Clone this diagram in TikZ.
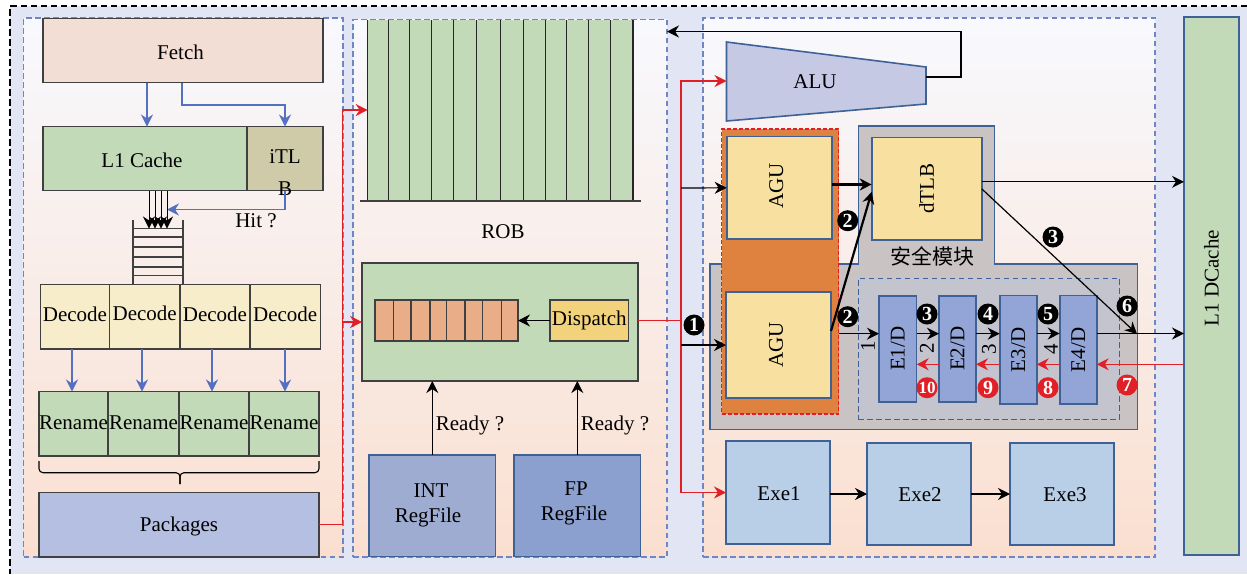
\documentclass[tikz,border=0pt]{standalone}
\usepackage{fontspec}
\setmainfont{Liberation Serif}
\newfontfamily\cjk{Noto Sans CJK SC}
\usepackage{xcolor}
\usepackage{tikz}
\usetikzlibrary{arrows.meta,positioning}
\definecolor{pagebg}{HTML}{E2E5F4}
\definecolor{paneltop}{HTML}{F8F9FE}
\definecolor{panelbot}{HTML}{FADFD0}
\definecolor{paneledge}{HTML}{6E86C4}
\definecolor{steel}{HTML}{3F6296}
\definecolor{linkblue}{HTML}{5470C0}
\definecolor{linkred}{HTML}{E01F26}
\definecolor{fetchc}{HTML}{F3DED5}
\definecolor{leaf}{HTML}{C3DAB8}
\definecolor{khaki}{HTML}{CFCAA8}
\definecolor{cream}{HTML}{F8EDCB}
\definecolor{pack}{HTML}{B4BFE2}
\definecolor{peach}{HTML}{E9AE88}
\definecolor{gold}{HTML}{F2D27B}
\definecolor{sand}{HTML}{F7E0A0}
\definecolor{intc}{HTML}{9EACD2}
\definecolor{fpc}{HTML}{8BA0CF}
\definecolor{aluc}{HTML}{C6C9E4}
\definecolor{zone}{HTML}{E0823F}
\definecolor{secure}{HTML}{C9C3C4}
\definecolor{innerc}{HTML}{C3C4CE}
\definecolor{execc}{HTML}{93A5D6}
\definecolor{exec}{HTML}{B9CEE7}
\newcommand{\nudge}[3]{\raisebox{#2}[\height][\depth]{\kern#1\relax #3\kern-#1\relax}}

\begin{document}
\begin{tikzpicture}[
  x=1pt, y=-1pt,
  txt/.style={inner sep=0pt, font=\fontsize{21}{32}\selectfont},
  box/.style={draw=black!75, line width=1.2pt, inner sep=0pt, outer sep=0pt, font=\fontsize{21}{32}\selectfont, align=center},
  unit/.style={box, draw=steel, line width=1.6pt},
  panel/.style={draw=paneledge, dash pattern=on 5.5pt off 3.5pt, line width=1.1pt, top color=paneltop, bottom color=panelbot, inner sep=0pt, outer sep=0pt},
  badge/.style={circle, fill=black, text=white, inner sep=0pt, minimum size=21pt, font=\fontsize{20}{20}\selectfont\bfseries},
  redbadge/.style={badge, fill=linkred},
  arr/.style={-{Stealth[length=12pt,width=12pt]}, line width=1.2pt},
  barr/.style={arr, draw=linkblue, line width=1.3pt},
  rout/.style={arr, draw=linkred, line width=1.3pt},
  node distance=0pt,
]
  \useasboundingbox (0,0) rectangle (1247,574);
  \fill[pagebg] (10,6) rectangle (1247,574);
  \draw[black, dash pattern=on 6.5pt off 3.5pt, line width=1.1pt] (1247,6) -- (10,6) -- (10,574);

  % three panels
  \node[panel, minimum width=319.5pt, minimum height=539pt] (front) at (183.25,287.5) {};
  \node[panel, minimum width=314pt, minimum height=537.5pt] (mid) at (510,288.25) {};
  \node[panel, minimum width=452pt, minimum height=539pt] (back) at (929,287.5) {};

  % front end
  \node[box, fill=fetchc, minimum width=280pt, minimum height=64pt] (fetch) at (183,50.5) {\nudge{-2.5pt}{-2pt}{Fetch}};
  \node[box, fill=leaf, minimum width=204pt, minimum height=64pt] (l1) at (145,158.5) {\nudge{-3pt}{-2pt}{L1 Cache}};
  \node[box, fill=khaki, minimum width=76pt, minimum height=64pt, right=of l1] (itlb) {};
  \node[txt, align=center] (itlbtext) at (285,173) {iTL\\B};
  \node[txt] (hit) at (256,221) {Hit ?};

  \foreach \y in {228.5,237,247,257,267,275.5}
    \draw[black!75, line width=1.2pt] (133,\y) -- (183,\y);
  \draw[black!75, line width=1.2pt] (133,220) -- (133,284.5);
  \draw[black!75, line width=1.2pt] (183,220) -- (183,284.5);

  \node[box, fill=cream, minimum width=69pt, minimum height=64.5pt] (dec1) at (75,316.75) {\nudge{0pt}{2pt}{Decode}};
  \node[box, fill=cream, minimum width=70.5pt, minimum height=64.5pt, right=of dec1] (dec2) {\nudge{0pt}{3pt}{Decode}};
  \node[box, fill=cream, minimum width=70pt, minimum height=64.5pt, right=of dec2] (dec3) {\nudge{0pt}{2pt}{Decode}};
  \node[box, fill=cream, minimum width=70.5pt, minimum height=64.5pt, right=of dec3] (dec4) {\nudge{0pt}{2pt}{Decode}};

  \node[box, fill=leaf, minimum width=69pt, minimum height=64.5pt] (ren1) at (73.5,423.75) {\nudge{0pt}{1pt}{Rename}};
  \node[box, fill=leaf, minimum width=71pt, minimum height=64.5pt, right=of ren1] (ren2) {\nudge{0pt}{1pt}{Rename}};
  \node[box, fill=leaf, minimum width=70pt, minimum height=64.5pt, right=of ren2] (ren3) {\nudge{0pt}{1pt}{Rename}};
  \node[box, fill=leaf, minimum width=70pt, minimum height=64.5pt, right=of ren3] (ren4) {\nudge{0pt}{1pt}{Rename}};

  \node[box, fill=pack, minimum width=280pt, minimum height=64.5pt] (packages) at (179,524.75) {\nudge{0pt}{-2pt}{Packages}};

  % brace under the rename row
  \coordinate (bracemid) at (180,472.7);
  \draw[black, line width=1.1pt, rounded corners=4pt] ([yshift=-5pt]ren1.south west) |- (bracemid) -- (180,484);
  \draw[black, line width=1.1pt, rounded corners=4pt] ([yshift=-5pt]ren4.south east) |- (bracemid) -- (180,484);

  \draw[barr] ([xshift=-36pt]fetch.south) -- ([xshift=-36pt]fetch.south |- l1.north);
  \draw[barr] ([xshift=-1pt]fetch.south) |- (200,105) -| (itlb.north);
  \draw[barr] (itlb.south) |- (167,209.5);
  \foreach \x in {149,155,161,167}
    \draw[arr, line width=1pt] (\x,190.5) -- (\x,228.5);

  \draw[barr] (72,349) -- (72,391.5);
  \draw[barr] (142,349) -- (142,391.5);
  \draw[barr] (212,349) -- (212,391.5);
  \draw[barr] (285,349) -- (285,391.5);

  % rob
  \fill[leaf] (367.7,19.5) rectangle (633,201);
  \foreach \x in {367.7,388.3,409.7,431.7,453.3,476.3,500.3,523.3,545.7,566.7,588.3,610.3,633}
    \draw[black!85, line width=1.2pt] (\x,19.5) -- (\x,201);
  \draw[black!75, line width=1.3pt] (360,201) -- (640.7,201);
  \coordinate (robin) at (367.7,110);
  \node[txt] (rob) at (503,232) {ROB};

  % issue queue
  \node[box, fill=leaf, minimum width=276pt, minimum height=118pt] (issue) at (500,322) {};
  \node[box, fill=peach, minimum width=143pt, minimum height=41pt] (queue) at (446.5,320.5) {};
  \foreach \x in {393.3,411,430,446.7,465,482.3,501.7}
    \draw[black!75, line width=1.1pt] (\x,300) -- (\x,341);
  \node[box, fill=gold, minimum width=78.7pt, minimum height=41pt] (dispatch) at (589.3,320.5) {Dispatch};
  \draw[arr] (dispatch) -- (queue);

  \node[unit, fill=intc, minimum width=126.7pt, minimum height=101.7pt] (intreg) at (432.3,505.8) {};
  \node[unit, fill=fpc, minimum width=126.7pt, minimum height=101.7pt] (fpreg) at (577.3,505.8) {};
  \node[txt, font=\fontsize{21}{25}\selectfont, align=center] (inttext) at (431,505.5) {INT\\\nudge{-3pt}{0pt}{RegFile}};
  \node[txt, font=\fontsize{21}{25}\selectfont, align=center] (fptext) at (576,503) {FP\\\nudge{-2pt}{0pt}{RegFile}};
  \draw[arr] (intreg.north) -- (intreg.north |- issue.south) node[pos=0.4, right=3pt, txt] (readya) {Ready ?};
  \draw[arr] (fpreg.north) -- (fpreg.north |- issue.south) node[pos=0.4, right=3pt, txt] (readyb) {Ready ?};

  % back end
  \draw[steel, fill=aluc, line width=1.6pt] (726.5,42) -- (926,67) -- (926,104) -- (726.5,121) -- cycle;
  \coordinate (aluin) at (726.5,81);
  \coordinate (aluout) at (926,77);
  \node[txt] (alu) at (815,81.5) {ALU};

  \draw[steel, fill=secure, line width=1.4pt] (710,264) -- (858.3,264) -- (858.3,126) -- (994.3,126)
    -- (994.3,264) -- (1137.7,264) -- (1137.7,429.3) -- (710,429.3) -- cycle;
  \node[draw=steel, dash pattern=on 5.5pt off 3.5pt, line width=1pt, fill=innerc, inner sep=0pt, outer sep=0pt, minimum width=261.5pt, minimum height=141pt] (crypto) at (988.75,348.5) {};
  \node[draw=linkred, dash pattern=on 4pt off 2pt, line width=1.2pt, fill=zone, inner sep=0pt, outer sep=0pt, minimum width=117pt, minimum height=285pt] (agubg) at (780.2,271.5) {};

  \node[unit, fill=sand, minimum width=105pt, minimum height=102.5pt] (agua) at (779.2,187.8) {\nudge{-3pt}{2pt}{\rotatebox{90}{AGU}}};
  \node[unit, fill=sand, minimum width=105pt, minimum height=106pt] (agub) at (778.5,345) {\nudge{-2.5pt}{0pt}{\rotatebox{90}{AGU}}};
  \node[unit, fill=sand, minimum width=110pt, minimum height=102.5pt] (dtlb) at (926.7,188.8) {\rotatebox{90}{dTLB}};
  \node[txt] (secname) at (932.5,256) {\cjk 安全模块};

  \node[unit, fill=execc, minimum width=37.7pt, minimum height=106pt] (e1) at (897.8,348.7) {\rotatebox{90}{E1/D}};
  \node[unit, fill=execc, minimum width=37pt, minimum height=106pt] (e2) at (957.5,348.7) {\rotatebox{90}{E2/D}};
  \node[unit, fill=execc, minimum width=37pt, minimum height=108.5pt] (e3) at (1018.2,349.9) {\rotatebox{90}{E3/D}};
  \node[unit, fill=execc, minimum width=37pt, minimum height=108.5pt] (e4) at (1078.2,349.9) {\rotatebox{90}{E4/D}};

  \node[unit, fill=exec, minimum width=104pt, minimum height=103pt] (exea) at (778,492.5) {\nudge{1pt}{-1pt}{Exe1}};
  \node[unit, fill=exec, minimum width=104pt, minimum height=102pt] (exeb) at (919,494) {\nudge{1pt}{-1pt}{Exe2}};
  \node[unit, fill=exec, minimum width=104pt, minimum height=102pt] (exec) at (1062,494) {\nudge{3pt}{-1pt}{Exe3}};
  \draw[arr] (exea.east |- exeb.west) -- (exeb.west);
  \draw[arr] (exeb) -- (exec);

  \node[unit, fill=leaf, minimum width=55pt, minimum height=538pt] (dcache) at (1211.5,286) {\nudge{0pt}{8pt}{\rotatebox{90}{L1 DCache}}};

  % connectors
  \coordinate (redbus) at (681,320.5);
  \draw[rout] (packages.east) -| (342.5,110) -- (robin);
  \draw[rout] (342.5,322) -- (issue.west);
  \draw[linkred, line width=1.3pt] (issue.east |- dispatch.east) -- (redbus);
  \draw[rout] (redbus) |- (aluin);
  \draw[rout] (redbus) |- (exea.west);
  \draw[arr] (681,188) -- (agua.west);
  \draw[arr] (681,345) -- (agub.west);

  \draw[arr] (aluout) -- (961,77) -- (961,31.5) -- (mid.east |- 0,31.5);

  \draw[arr, line width=2.2pt] ([yshift=3.3pt]agua.east) -- ([yshift=4.3pt]dtlb.west);
  \draw[arr, line width=2.2pt] ([yshift=14pt]agub.east) -- ([yshift=-3pt]dtlb.west);
  \draw[arr] ([yshift=15pt]e1.west -| agubg.east) -- ([yshift=15pt]e1.west);
  \draw[arr] ([yshift=15pt]e1.east) -- ([yshift=15pt]e2.west);
  \draw[arr] ([yshift=15pt]e2.east) -- ([yshift=15pt]e2.east -| e3.west);
  \draw[arr] ([yshift=16.4pt]e3.east) -- ([yshift=16.4pt]e4.west);
  \draw[arr] ([yshift=16.4pt]e4.east) -- ([yshift=16.4pt]e4.east -| dcache.west);
  \draw[arr] ([yshift=7pt]dtlb.east) -- ([yshift=7pt]dtlb.east -| dcache.west);
  \draw[arr] (dtlb.east) -- (1137,334);
  \draw[rout] (dcache.west |- e4.east) ++(0,14.4) -- ([yshift=-14.4pt]e4.east);
  \draw[rout] ([yshift=-14.4pt]e4.west) -- ([yshift=-14.4pt]e4.west -| e3.east);
  \draw[rout] ([yshift=-14.4pt]e3.west) -- ([yshift=-14.4pt]e3.west -| e2.east);
  \draw[rout] ([yshift=-15.6pt]e2.west) -- ([yshift=-15.6pt]e1.east);

  % step marks
  \node[badge] (m1) at (694,325) {1};
  \node[badge] (m2a) at (847.7,220.7) {2};
  \node[badge] (m2b) at (847.7,316.7) {2};
  \node[badge] (m3a) at (1053,237) {3};
  \node[badge] (m3b) at (927,314) {3};
  \node[badge] (m4) at (988,314) {4};
  \node[badge] (m5) at (1048,314) {5};
  \node[badge] (m6) at (1127,306) {6};
  \node[redbadge] (m7) at (1127,385) {7};
  \node[redbadge] (m8) at (1048,387.7) {8};
  \node[redbadge] (m9) at (988,387.7) {9};
  \node[redbadge, font=\fontsize{17}{17}\selectfont\bfseries] (m10) at (927,387.7) {10};

  \node[txt, rotate=90] (n1) at (868,346.7) {1};
  \node[txt, rotate=90] (n2) at (927,348) {2};
  \node[txt, rotate=90] (n3) at (989,349) {3};
  \node[txt, rotate=90] (n4) at (1051,349) {4};
\end{tikzpicture}
\end{document}
